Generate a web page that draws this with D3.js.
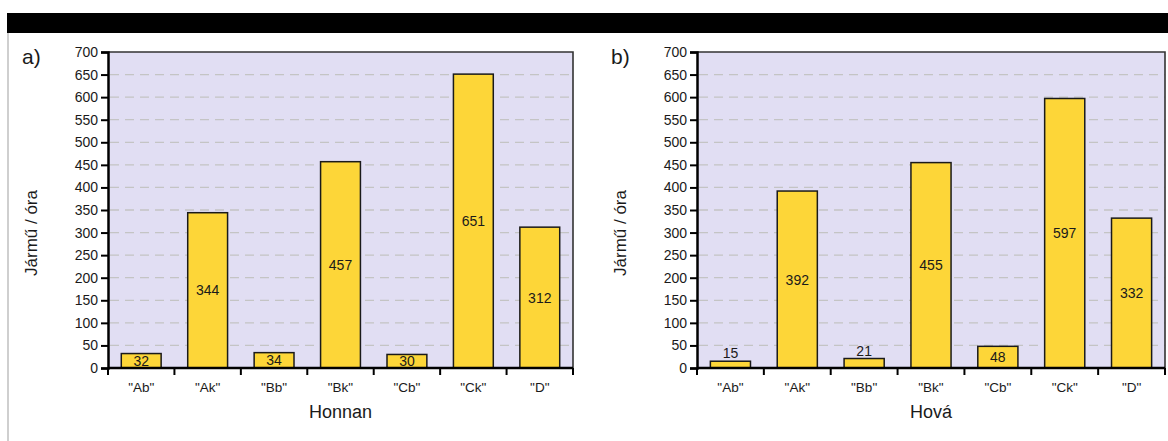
<!DOCTYPE html>
<html>
<head>
<meta charset="utf-8">
<script src="https://cdn.jsdelivr.net/npm/d3@7"></script>
<style>
  body { margin: 0; background: #fff; }
  svg text { font-family: "Liberation Sans", Arial, sans-serif; fill: #1a1a1a; }
</style>
</head>
<body>
<div id="graph"></div>
<script>
const categories = ['"Ab"', '"Ak"', '"Bb"', '"Bk"', '"Cb"', '"Ck"', '"D"'];
const honnanValues = [32, 344, 34, 457, 30, 651, 312];
const hovaValues = [15, 392, 21, 455, 48, 597, 332];
const yTicks = d3.range(0, 701, 50);

const fullwidth = 1168;
const fullheight = 441;

var svg = d3.select("#graph").
append("svg").
attr("width", fullwidth).
attr("height", fullheight);

// black header strip and left frame line
svg.append("rect").attr("x", 7).attr("y", 13).attr("width", fullwidth - 7).attr("height", 20).attr("fill", "#000");
svg.append("rect").attr("x", 7).attr("y", 33).attr("width", 2).attr("height", fullheight - 33).attr("fill", "#cfcfcf");

function drawPanel(opts) {
  var x = d3.scaleBand().domain(categories).range([opts.left, opts.right]).paddingInner(0.4).paddingOuter(0.2);
  var y = d3.scaleLinear().domain([0, 700]).range([368, 52]);
  var g = svg.append("g");

  g.append("rect").
  attr("x", opts.left).
  attr("y", y(700)).
  attr("width", opts.right - opts.left).
  attr("height", y(0) - y(700)).
  attr("fill", "#e1def3");

  // dashed grid
  g.selectAll("line.grid").
  data(yTicks.filter(d => d > 0 && d < 700)).
  enter().append("line").
  attr("class", "grid").
  attr("x1", opts.left + 2).
  attr("x2", opts.right).
  attr("y1", d => y(d)).
  attr("y2", d => y(d)).
  attr("stroke", "#c4c4c4").
  attr("stroke-width", 1.3).
  attr("stroke-dasharray", "9,6");

  // top and right frame
  g.append("path").
  attr("d", "M" + opts.left + "," + y(700) + "H" + opts.right + "V" + y(0)).
  attr("fill", "none").
  attr("stroke", "#333").
  attr("stroke-width", 1.6);

  g.selectAll("rect.bar").
  data(opts.values).
  enter().append("rect").
  attr("class", "bar").
  attr("x", (d, i) => x(categories[i])).
  attr("y", d => y(d)).
  attr("width", x.bandwidth()).
  attr("height", d => y(0) - y(d)).
  attr("fill", "#fdd638").
  attr("stroke", "#1a1a1a").
  attr("stroke-width", 1.5);

  g.selectAll("text.val").
  data(opts.values).
  enter().append("text").
  attr("class", "val").
  attr("x", (d, i) => x(categories[i]) + x.bandwidth() / 2).
  attr("y", function (d) {
    var h = y(0) - y(d);
    return h > 12 ? y(d) + h / 2 + 5 : y(d) - 3;
  }).
  attr("text-anchor", "middle").
  attr("font-size", 14).
  text(d => d);

  // y axis
  var yAxis = d3.axisLeft(y).tickValues(yTicks).tickSize(7).tickPadding(3);
  var ya = g.append("g").attr("transform", "translate(" + opts.left + ",0)").call(yAxis);
  ya.attr("font-size", 14).attr("font-family", null);
  ya.select(".domain").attr("stroke", "#000").attr("stroke-width", 2.5);
  ya.selectAll(".tick line").attr("stroke", "#000").attr("stroke-width", 2);
  ya.selectAll(".tick text").attr("font-size", 14).attr("fill", "#1a1a1a");

  // x axis with ticks at band edges
  var edges = d3.range(categories.length + 1).map(i => opts.left + i * (opts.right - opts.left) / categories.length);
  g.append("line").
  attr("x1", opts.left).attr("x2", opts.right).
  attr("y1", y(0)).attr("y2", y(0)).
  attr("stroke", "#000").attr("stroke-width", 2.5);
  g.selectAll("line.xt").
  data(edges).
  enter().append("line").
  attr("class", "xt").
  attr("x1", d => d).attr("x2", d => d).
  attr("y1", y(0)).attr("y2", y(0) + 7).
  attr("stroke", "#000").attr("stroke-width", 2);
  g.selectAll("text.cat").
  data(categories).
  enter().append("text").
  attr("class", "cat").
  attr("x", d => x(d) + x.bandwidth() / 2).
  attr("y", 392).
  attr("text-anchor", "middle").
  attr("font-size", 13.5).
  text(d => d);

  g.append("text").
  attr("x", (opts.left + opts.right) / 2).
  attr("y", 418).
  attr("text-anchor", "middle").
  attr("font-size", 18).
  text(opts.xlabel);

  g.append("text").
  attr("transform", "translate(" + (opts.left - 71) + ",233) rotate(-90)").
  attr("text-anchor", "middle").
  attr("font-size", 17).
  text("Jármű / óra");

  g.append("text").
  attr("x", opts.left - 86).
  attr("y", 64).
  attr("font-size", 21).
  text(opts.tag);
}

drawPanel({ left: 108, right: 573, values: honnanValues, xlabel: "Honnan", tag: "a)" });
drawPanel({ left: 697, right: 1165, values: hovaValues, xlabel: "Hová", tag: "b)" });
</script>
</body>
</html>
